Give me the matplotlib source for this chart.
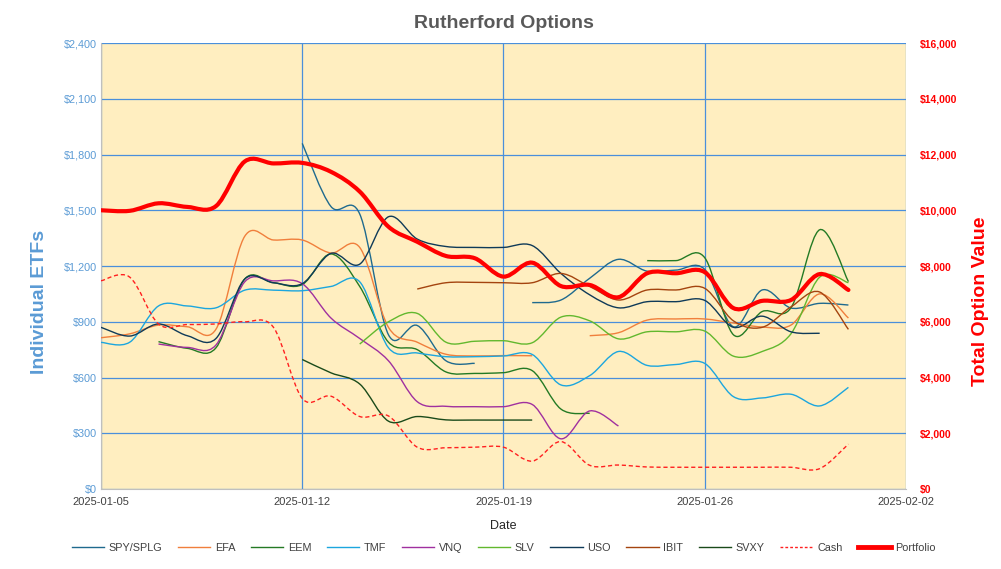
import matplotlib
matplotlib.use('Agg')
import matplotlib.pyplot as plt
import matplotlib.dates as mdates
from matplotlib.path import Path
from matplotlib.patches import PathPatch
from matplotlib.lines import Line2D
from matplotlib.ticker import FuncFormatter, MultipleLocator
import numpy as np
import pandas as pd

plt.rcParams['font.family'] = ['Liberation Sans', 'DejaVu Sans']

nan = np.nan
dates = pd.date_range('2025-01-05', '2025-01-31', freq='D')

# individual ETFs (left axis, $)
spy = [nan]*7 + [1860, 1520, 1480, 830, 880, 690, 676, nan,
                 1003, 1017, 1134, 1236, 1172, 1178, 1182, 873, 1071, 974, 999, 990]
efa = [814, 835, 882, 873, 860, 1360, 1340, 1340, 1270, 1300, 870, 790, 725, 716, 718, 717, nan,
       825, 841, 909, 915, 915, 893, 872, 882, 1050, 920]
eem = [nan, nan, 793, 757, 760, 1130, 1110, 1100, 1265, 1090, 790, 750, 630, 622, 626, 637, 430, 407, nan,
       1229, 1229, 1245, 830, 955, 975, 1395, 1116]
tmf = [789, 790, 985, 985, 975, 1070, 1070, 1067, 1090, 1115, 760, 732, 712, 712, 716, 724, 560, 610,
       740, 665, 670, 676, 497, 490, 510, 447, 547]
vnq = [nan, nan, 780, 762, 775, 1115, 1120, 1105, 920, 810, 690, 470, 445, 443, 443, 455, 270, 420, 339] + [nan]*8
slv = [nan]*9 + [780, 900, 945, 790, 795, 798, 787, 925, 905, 808, 846, 846, 850, 715, 740, 835, 1140, 1110]
uso = [870, 823, 888, 825, 810, 1130, 1110, 1105, 1268, 1210, 1465, 1345, 1305, 1300, 1300, 1310, 1160,
       1045, 975, 1008, 1008, 1015, 870, 930, 846, 838, nan]
ibit = [nan]*11 + [1076, 1110, 1112, 1110, 1110, 1160, 1090, 1017, 1071, 1071, 1080, 905, 870, 980, 1060, 859]
svxy = [nan]*7 + [697, 625, 565, 365, 390, 372, 371, 371, 371] + [nan]*11

# totals (right axis, $)
cash = [7470, 7600, 5920, 5900, 5920, 6000, 5800, 3250, 3330, 2600, 2620, 1500, 1480, 1500, 1500, 1000,
        1700, 850, 860, 790, 780, 780, 780, 780, 780, 730, 1610]
portfolio = [10000, 9980, 10250, 10120, 10150, 11750, 11680, 11700, 11380, 10670, 9410, 8870, 8360, 8280,
             7620, 8120, 7280, 7320, 6880, 7740, 7740, 7780, 6490, 6750, 6780, 7710, 7140]

etfs = [('SPY/SPLG', spy, '#1F6A8E'), ('EFA', efa, '#F07F3C'), ('EEM', eem, '#247A24'),
        ('TMF', tmf, '#1CA6DE'), ('VNQ', vnq, '#A0309F'), ('SLV', slv, '#62B82E'),
        ('USO', uso, '#0F3A58'), ('IBIT', ibit, '#A4440F'), ('SVXY', svxy, '#1A4A1A')]


def smooth_path(x, y):
    # smoothed line like Excel: cubic bezier through each unbroken run of points
    y = np.asarray(y, float)
    ok = ~np.isnan(y)
    verts, codes = [], []
    runs = np.split(np.arange(len(y)), np.where(np.diff(ok.astype(int)) != 0)[0] + 1)
    for r in runs:
        if not ok[r[0]] or len(r) < 2:
            continue
        xs, ys = x[r], y[r]
        n = len(xs)
        verts.append((xs[0], ys[0])); codes.append(Path.MOVETO)
        for i in range(n - 1):
            a = i - 1 if i > 0 else i
            b = i + 2 if i + 2 < n else i + 1
            c1 = (xs[i] + (xs[i+1] - xs[a]) / 6, ys[i] + (ys[i+1] - ys[a]) / 6)
            c2 = (xs[i+1] - (xs[b] - xs[i]) / 6, ys[i+1] - (ys[b] - ys[i]) / 6)
            verts += [c1, c2, (xs[i+1], ys[i+1])]; codes += [Path.CURVE4] * 3
    return Path(verts, codes)


xn = mdates.date2num(dates)
fig, ax = plt.subplots(figsize=(10.01, 5.69), dpi=100)
fig.subplots_adjust(left=0.1009, right=0.905, bottom=0.1406, top=0.9244)
ax2 = ax.twinx()
ax.set_facecolor('#FFEEC0')
ax.set_zorder(1); ax2.set_zorder(2); ax2.patch.set_visible(False)

handles = []
for name, vals, c in etfs:
    ax.add_patch(PathPatch(smooth_path(xn, vals), fill=False, edgecolor=c, lw=1.0, zorder=3))
    handles.append(Line2D([], [], color=c, lw=1.0, label=name))
ax2.add_patch(PathPatch(smooth_path(xn, cash), fill=False, edgecolor='#FF2020', lw=1.0, linestyle=(0, (3, 2)), zorder=3))
handles.append(Line2D([], [], color='#FF2020', lw=1.0, linestyle=(0, (2, 1.5)), label='Cash'))
ax2.add_patch(PathPatch(smooth_path(xn, portfolio), fill=False, edgecolor='#FF0000', lw=3.0, zorder=4, capstyle='round'))
handles.append(Line2D([], [], color='#FF0000', lw=3.5, label='Portfolio'))

ax.set_xlim(mdates.date2num(pd.Timestamp('2025-01-05')), mdates.date2num(pd.Timestamp('2025-02-02')))
ax.set_ylim(0, 2400); ax2.set_ylim(0, 16000)
ax.set_xticks(mdates.date2num(pd.date_range('2025-01-05', '2025-02-02', freq='7D')))
ax.xaxis.set_major_formatter(mdates.DateFormatter('%Y-%m-%d'))
ax.yaxis.set_major_locator(MultipleLocator(300))
ax2.yaxis.set_major_locator(MultipleLocator(2000))
ax.yaxis.set_major_formatter(FuncFormatter(lambda v, p: f'${v:,.0f}'))
ax2.yaxis.set_major_formatter(FuncFormatter(lambda v, p: f'${v:,.0f}'))

ax.grid(True, color='#4A8FDB', lw=0.9)
ax.set_axisbelow(True)
ax.tick_params(axis='both', length=0)
ax2.tick_params(axis='both', length=0)
ax.tick_params(axis='y', colors='#5B9BD5', labelsize=7.8, pad=3)
ax.tick_params(axis='x', colors='#404040', labelsize=8, pad=6)
ax2.tick_params(axis='y', colors='#FF0000', labelsize=7.5, pad=10)
for lab in ax2.get_yticklabels():
    lab.set_fontweight('bold')
for s in ['top', 'right']:
    ax.spines[s].set_visible(False)
for s in ['top', 'right', 'left', 'bottom']:
    ax2.spines[s].set_visible(False)
ax.spines['left'].set_color('#BFBFBF'); ax.spines['bottom'].set_color('#BFBFBF')

ax.set_title('Rutherford Options', fontsize=14, fontweight='bold', color='#595959', pad=11)
ax.set_xlabel('Date', fontsize=9, color='#262626', labelpad=9)
ax.set_ylabel('Individual ETFs', fontsize=14, fontweight='bold', color='#5B9BD5')
ax2.set_ylabel('Total Option Value', fontsize=14, fontweight='bold', color='#FF0000')
ax.yaxis.set_label_coords(-0.066, 0.42)
ax2.yaxis.set_label_coords(1.082, 0.42)

fig.legend(handles=handles, loc='center', bbox_to_anchor=(0.503, 0.037), ncol=11, frameon=False,
           prop={'size': 7.8}, handlelength=3.0, handletextpad=0.4, columnspacing=1.45,
           labelcolor='#404040')
fig.savefig('out.png', dpi=100)
